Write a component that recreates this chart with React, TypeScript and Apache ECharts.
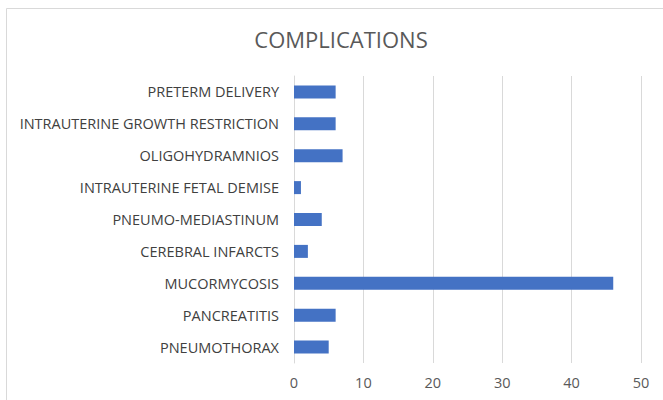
import React, { useEffect, useRef } from "react";
import * as echarts from "echarts";

const categories = [
  "PNEUMOTHORAX",
  "PANCREATITIS",
  "MUCORMYCOSIS",
  "CEREBRAL INFARCTS",
  "PNEUMO-MEDIASTINUM",
  "INTRAUTERINE FETAL DEMISE",
  "OLIGOHYDRAMNIOS",
  "INTRAUTERINE GROWTH RESTRICTION",
  "PRETERM DELIVERY",
];
const values = [5, 6, 46, 2, 4, 1, 7, 6, 6];
const titleText = "COMPLICATIONS";

const FONT = "'Open Sans', sans-serif";

export default function App() {
  const ref = useRef<HTMLDivElement>(null);
  useEffect(() => {
    if (!ref.current) return;
    const chart = echarts.init(ref.current, null, { renderer: "svg" });
    chart.setOption({
      animation: false,
      backgroundColor: "#ffffff",
      title: {
        text: titleText,
        left: 336,
        textAlign: "center",
        top: 23,
        textStyle: { fontFamily: FONT, fontSize: 22, fontWeight: "normal", color: "#595959" },
      },
      graphic: [
        {
          type: "rect",
          shape: { x: 6.5, y: 8.5, width: 700, height: 420 },
          style: { fill: "none", stroke: "#d9d9d9", lineWidth: 1 },
          silent: true,
        },
      ],
      grid: { left: 294, right: 22, top: 76, bottom: 37, containLabel: false },
      xAxis: {
        type: "value",
        min: 0,
        max: 50,
        interval: 10,
        axisLine: { show: false },
        axisTick: { show: false },
        splitLine: { show: true, lineStyle: { color: "#d9d9d9", width: 1 } },
        axisLabel: { color: "#595959", fontFamily: FONT, fontSize: 14.5, margin: 12 },
      },
      yAxis: {
        type: "category",
        data: categories,
        axisLine: { show: true, lineStyle: { color: "#d9d9d9" } },
        axisTick: { show: false },
        axisLabel: { color: "#404040", fontFamily: FONT, fontSize: 14.5, margin: 15 },
      },
      series: [
        {
          type: "bar",
          data: values,
          barWidth: 13,
          itemStyle: { color: "#4472c4" },
        },
      ],
    });
    return () => chart.dispose();
  }, []);
  return <div ref={ref} style={{ width: 663, height: 400, position: "absolute", left: 0, top: 0 }} />;
}
